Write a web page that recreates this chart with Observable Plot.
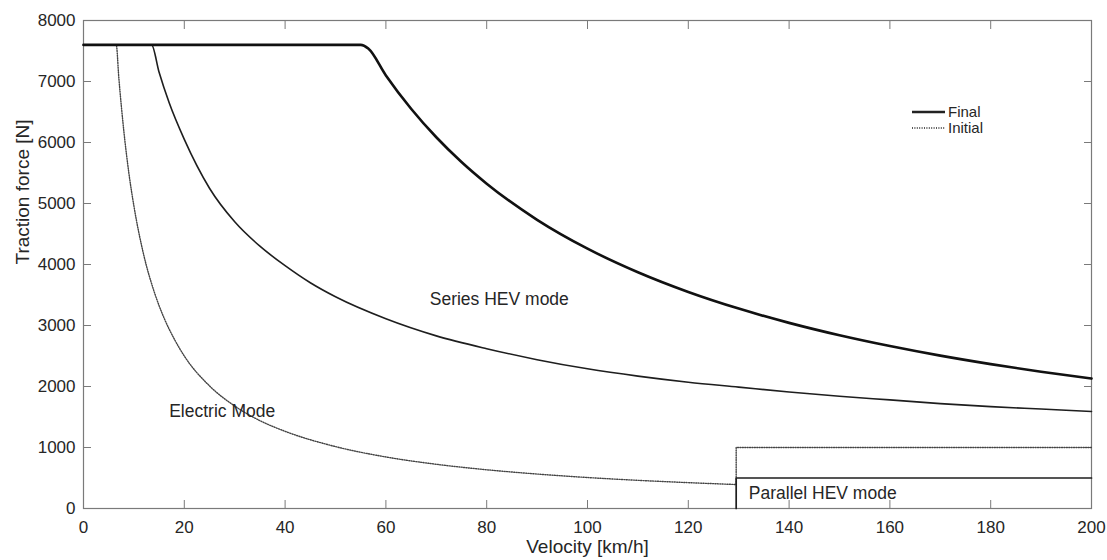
<!DOCTYPE html>
<html><head><meta charset="utf-8">
<script src="https://cdn.jsdelivr.net/npm/d3@7"></script>
<script src="https://cdn.jsdelivr.net/npm/@observablehq/plot@0.6"></script>
<style>
body{margin:0;background:#fff;font-family:"Liberation Sans",Arial,sans-serif;}
#wrap{position:relative;width:1107px;height:560px;}
#legend{position:absolute;left:912px;top:104px;font-size:15px;color:#262626;line-height:16px;}
#legend div{display:flex;align-items:center;height:16px;}
#legend svg{margin-right:3px;}
</style></head><body><div id="wrap"><div id="legend"></div></div>
<script>
// Tick values
const xTicks = [0,20,40,60,80,100,120,140,160,180,200];
const yTicks = [0,1000,2000,3000,4000,5000,6000,7000,8000];

// Final (thick) envelope: velocity [km/h] and force [N]
const finalV = [0,55,56.5,60,65,70,75,80,90,100,110,120,130,140,150,160,170,180,190,200];
const finalF = [7600,7600,7540,7100,6554,6086,5680,5325,4733,4260,3873,3550,3277,3043,2840,2663,2506,2367,2242,2130];

// Series HEV curve (medium solid)
const seriesV = [0,13.5,15,17,20,25,30,35,40,45,50,60,70,80,90,100,110,120,130,140,150,160,170,180,190,200];
const seriesF = [7600,7600,7150,6650,6050,5250,4700,4300,3980,3700,3470,3110,2830,2620,2440,2290,2170,2070,1990,1910,1840,1780,1720,1670,1630,1590];

// Electric mode curve (initial, dotted)
const electricV = [0,6.5,7,8,9,10,12,14,16,18,20,25,30,35,40,50,60,70,80,90,100,110,120,129.5];
const electricF = [7600,7600,7070,6190,5500,4960,4140,3560,3120,2780,2500,2010,1680,1440,1265,1015,845,725,635,565,508,462,424,393];

// Parallel HEV limits
const parInitV = [129.5,129.5,200];
const parInitF = [393,1000,1000];
const parFinalV = [129.5,129.5,200];
const parFinalF = [0,500,500];

// Annotations
const annLabels = ["Series HEV mode","Electric Mode","Parallel HEV mode"];
const annV = [68.7,17,132];
const annF = [3420,1585,245];

// Legend
const legendLabels = ["Final","Initial"];

const pts = (V,F) => V.map((v,i)=>({v, f:F[i]}));
const ann = annLabels.map((t,i)=>({t, v:annV[i], f:annF[i]}));

const W = 1107, H = 560, mL = 83, mR = 16, mT = 20, mB = 52;
const tk = 8;
const gray = "#7a7a7a";
const ink = "#262626";
const dotted = {stroke:"#444", strokeWidth:1.4, strokeDasharray:"1,1.4"};
const noText = () => "";

const chart = Plot.plot({
  width:W, height:H,
  marginLeft:mL, marginRight:mR, marginTop:mT, marginBottom:mB,
  x:{domain:[0,200]}, y:{domain:[0,8000]},
  style:{fontFamily:'"Liberation Sans",Arial,sans-serif', fontSize:"17px", color:ink, background:"#fff"},
  marks:[
    Plot.frame({stroke:gray, strokeWidth:1.2}),
    // inward ticks on all four sides
    Plot.axisX(xTicks, {anchor:"bottom", tickSize:tk, dy:-tk, tickFormat:noText, label:null, stroke:gray}),
    Plot.axisX(xTicks, {anchor:"top", tickSize:tk, dy:tk, tickFormat:noText, label:null, stroke:gray}),
    Plot.axisY(yTicks, {anchor:"left", tickSize:tk, dx:tk, tickFormat:noText, label:null, stroke:gray}),
    Plot.axisY(yTicks, {anchor:"right", tickSize:tk, dx:-tk, tickFormat:noText, label:null, stroke:gray}),
    // tick labels
    Plot.axisX(xTicks, {tickSize:0, tickPadding:12, label:null, fill:ink, tickFormat:d3.format("d")}),
    Plot.axisY(yTicks, {tickSize:0, tickPadding:8, label:null, fill:ink, tickFormat:d3.format("d")}),
    Plot.text(["Velocity [km/h]"], {frameAnchor:"bottom", dy:44, fontSize:19, fill:ink}),
    Plot.text(["Traction force [N]"], {frameAnchor:"left", dx:-61, rotate:-90, fontSize:19, fill:ink}),
    Plot.line(pts(electricV, electricF), {x:"v", y:"f", curve:"monotone-x", ...dotted}),
    Plot.line(pts(parInitV, parInitF), {x:"v", y:"f", ...dotted}),
    Plot.line(pts(seriesV, seriesF), {x:"v", y:"f", curve:"monotone-x", stroke:"#1e1e1e", strokeWidth:1.6}),
    Plot.line(pts(parFinalV, parFinalF), {x:"v", y:"f", stroke:"#1e1e1e", strokeWidth:1.7}),
    Plot.line(pts(finalV, finalF), {x:"v", y:"f", curve:"monotone-x", stroke:"#111", strokeWidth:2.6}),
    Plot.text(ann, {x:"v", y:"f", text:"t", textAnchor:"start", fontSize:17.5, fill:ink})
  ]
});
document.getElementById("wrap").prepend(chart);

const lg = document.getElementById("legend");
const dash = ["", "1,1.4"];
const widths = [2.4, 1.4];
legendLabels.forEach((lab,i)=>{
  const row = document.createElement("div");
  row.innerHTML = `<svg width="33" height="16"><line x1="0" x2="33" y1="8" y2="8" stroke="#222" stroke-width="${widths[i]}" ${dash[i]?`stroke-dasharray="${dash[i]}"`:""}/></svg><span>${lab}</span>`;
  lg.appendChild(row);
});
</script>
</body></html>
